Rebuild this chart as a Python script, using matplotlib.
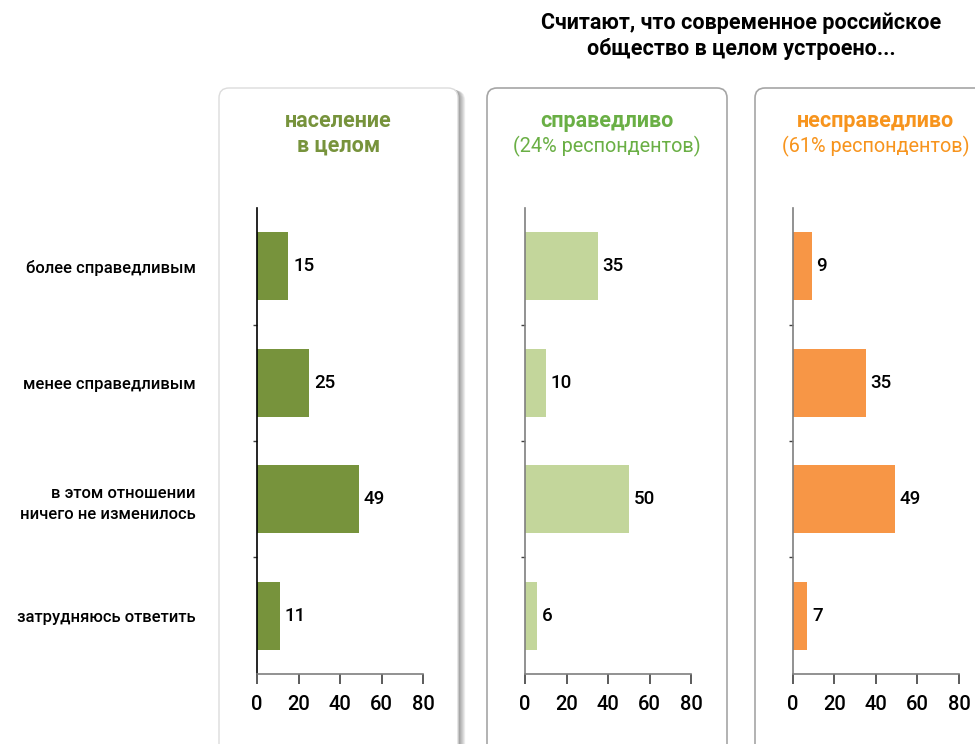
import numpy as np
import matplotlib.pyplot as plt
from matplotlib.patches import FancyBboxPatch

plt.rcParams['font.family'] = ['Roboto', 'DejaVu Sans']

categories = ["более справедливым", "менее справедливым",
              "в этом отношении\nничего не изменилось", "затрудняюсь ответить"]
total = [15, 25, 49, 11]
fair = [35, 10, 50, 6]
unfair = [9, 35, 49, 7]
ticks = [0, 20, 40, 60, 80]

titles = ["население\nв целом", "справедливо", "несправедливо"]
subtitles = ["", "(24% респондентов)", "(61% респондентов)"]
bar_colors = ["#77933C", "#C3D69B", "#F79646"]
title_colors = ["#77933C", "#6AAF45", "#F7941D"]

fig = plt.figure(figsize=(9.75, 7.44), dpi=100)

# background layer in pixel units for the rounded panels
bg = fig.add_axes([0, 0, 1, 1], zorder=0)
bg.set_xlim(0, 975)
bg.set_ylim(744, 0)
bg.axis("off")

# panel 1 with a soft shadow
for i in range(8, 0, -1):
    sh = FancyBboxPatch((219 + i * 0.9, 88 + i * 0.3), 239, 700,
                        boxstyle="round,pad=0,rounding_size=10",
                        facecolor="black", edgecolor="none", alpha=0.06)
    bg.add_patch(sh)
bg.add_patch(FancyBboxPatch((219, 88), 239, 700, boxstyle="round,pad=0,rounding_size=10",
                            facecolor="white", edgecolor="#dcdcdc", lw=1))
bg.add_patch(FancyBboxPatch((487, 88), 240, 700, boxstyle="round,pad=0,rounding_size=10",
                            facecolor="white", edgecolor="#a6a6a6", lw=1.2))
bg.add_patch(FancyBboxPatch((755, 88), 242, 700, boxstyle="round,pad=0,rounding_size=10",
                            facecolor="white", edgecolor="#a6a6a6", lw=1.2))

fig.text(741 / 975, 1 - 36 / 744, "Считают, что современное российское\nобщество в целом устроено...",
         ha="center", va="center", fontsize=15.5, fontweight="bold", linespacing=1.2)

lefts = [0.2636, 0.5385, 0.8133]
centers = [338.5 / 975, 607 / 975, 876 / 975]
data = [total, fair, unfair]
y = np.arange(len(categories))

for k in range(3):
    ax = fig.add_axes([lefts[k], 0.0941, 0.1703, 0.6263], zorder=2)
    ax.patch.set_alpha(0)
    vals = data[k]
    ax.barh(y, vals, height=0.58, color=bar_colors[k])
    for yi, v in zip(y, vals):
        ax.annotate(str(v), (v, yi), xytext=(3.5, 0), textcoords="offset points",
                    va="center", ha="left", fontsize=13.5, fontweight="medium")
    ax.set_xlim(0, 80)
    ax.set_ylim(len(categories) - 0.5, -0.5)
    ax.set_xticks(ticks)
    ax.set_xticklabels([str(t) for t in ticks], fontweight="medium")
    ax.tick_params(axis="x", length=7, width=1.2, color="#404040", pad=8, labelsize=14.5)
    ax.set_yticks(y)
    ax.set_yticks(y[:-1] + 0.5, minor=True)
    ax.tick_params(axis="y", which="minor", length=3, width=1, color="#404040")
    if k == 0:
        ax.set_yticklabels(categories, fontsize=12, fontweight="medium", linespacing=1.5)
        ax.tick_params(axis="y", which="major", length=0, pad=44)
    else:
        ax.set_yticklabels([])
        ax.tick_params(axis="y", which="major", length=0)
    for s in ["top", "right"]:
        ax.spines[s].set_visible(False)
    ax.spines["left"].set_color("black" if k == 0 else "#7f7f7f")
    ax.spines["left"].set_linewidth(1.2)
    ax.spines["bottom"].set_color("#7f7f7f")
    ax.spines["bottom"].set_linewidth(1.2)

    first = titles[k].split("\n")[0]
    second = titles[k].split("\n")[1] if "\n" in titles[k] else subtitles[k]
    fig.text(centers[k], 1 - 121 / 744, first, ha="center", va="center",
             fontsize=15.5, fontweight="bold", color=title_colors[k])
    fig.text(centers[k], 1 - 146 / 744, second, ha="center", va="center",
             fontsize=15.5 if k == 0 else 14.3, fontweight="bold" if k == 0 else "normal",
             color=title_colors[k])

fig.savefig("out.png", dpi=100)
